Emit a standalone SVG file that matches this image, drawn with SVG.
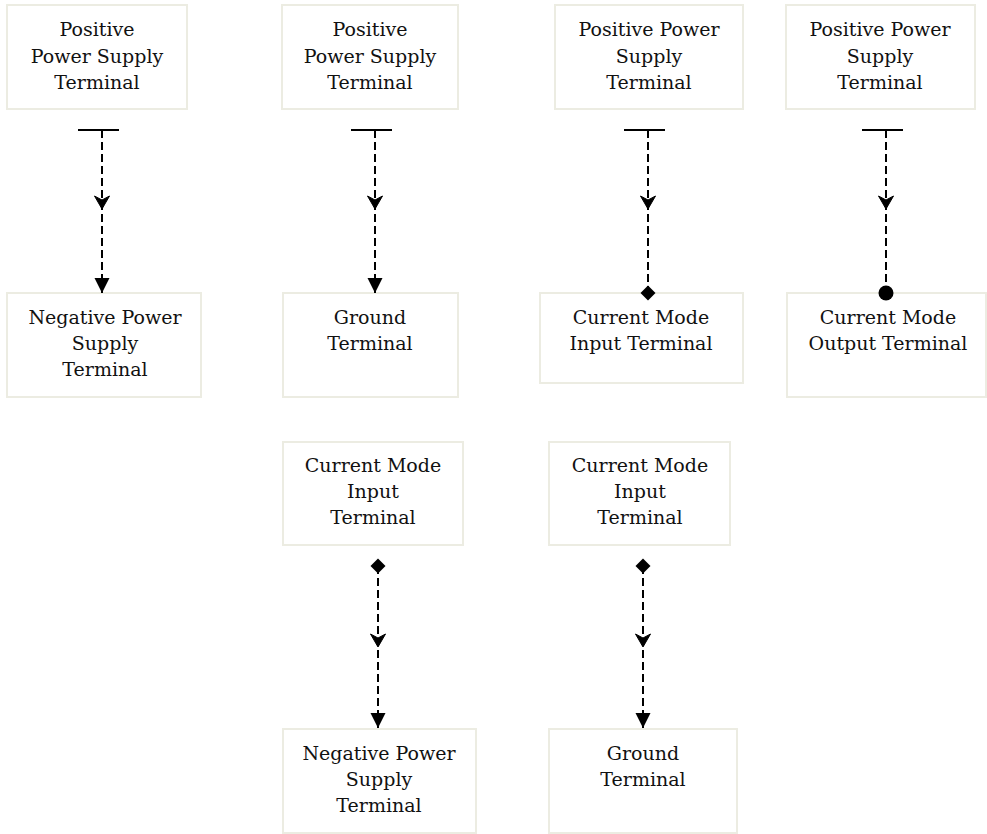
<svg xmlns="http://www.w3.org/2000/svg" width="987" height="834" viewBox="0 0 987 834">
<style>
.box{fill:#ffffff;stroke:#ecece2;stroke-width:2}
.lbl{font-family:"DejaVu Serif","Liberation Serif",serif;font-size:19px;fill:#111;text-anchor:middle}
.edge{fill:none;stroke:#000;stroke-width:2;stroke-dasharray:8 4}
</style>
<defs>
<marker id="tee" markerUnits="userSpaceOnUse" orient="auto" overflow="visible" refX="0" refY="0" markerWidth="1" markerHeight="1">
<path d="M0,-17 L0,24" stroke="#000" stroke-width="2" fill="none"/>
</marker>
<marker id="dia" markerUnits="userSpaceOnUse" orient="auto" overflow="visible" refX="0" refY="0" markerWidth="1" markerHeight="1">
<path d="M-7.5,0 L0,-7.5 L7.5,0 L0,7.5 Z" fill="#000"/>
</marker>
<marker id="dot" markerUnits="userSpaceOnUse" orient="auto" overflow="visible" refX="0" refY="0" markerWidth="1" markerHeight="1">
<circle cx="0" cy="0" r="7.5" fill="#000"/>
</marker>
<marker id="arr" markerUnits="userSpaceOnUse" orient="auto" overflow="visible" refX="0" refY="0" markerWidth="1" markerHeight="1">
<path d="M-15,-7.5 L0,0 L-15,7.5 Z" fill="#000"/>
</marker>
<marker id="mid" markerUnits="userSpaceOnUse" orient="auto" overflow="visible" refX="0" refY="0" markerWidth="1" markerHeight="1">
<path d="M-13,-7.5 L0,0 L-13,7.5 L-9,0 Z" fill="#000" stroke="#000" stroke-width="1" stroke-linejoin="miter"/>
</marker>
</defs>
<g id="n1"><rect class="box" x="7" y="5" width="180" height="104"/><text class="lbl" x="97" y="36">Positive</text><text class="lbl" x="97" y="62.5">Power Supply</text><text class="lbl" x="97" y="89">Terminal</text></g>
<g id="n2"><rect class="box" x="282" y="5" width="176" height="104"/><text class="lbl" x="370" y="36">Positive</text><text class="lbl" x="370" y="62.5">Power Supply</text><text class="lbl" x="370" y="89">Terminal</text></g>
<g id="n3"><rect class="box" x="555" y="5" width="188" height="104"/><text class="lbl" x="649" y="36">Positive Power</text><text class="lbl" x="649" y="62.5">Supply</text><text class="lbl" x="649" y="89">Terminal</text></g>
<g id="n4"><rect class="box" x="786" y="5" width="189" height="104"/><text class="lbl" x="880" y="36">Positive Power</text><text class="lbl" x="880" y="62.5">Supply</text><text class="lbl" x="880" y="89">Terminal</text></g>
<g id="n5"><rect class="box" x="7" y="293" width="194" height="104"/><text class="lbl" x="105" y="324">Negative Power</text><text class="lbl" x="105" y="350">Supply</text><text class="lbl" x="105" y="376">Terminal</text></g>
<g id="n6"><rect class="box" x="283" y="293" width="175" height="104"/><text class="lbl" x="370" y="324">Ground</text><text class="lbl" x="370" y="350">Terminal</text></g>
<g id="n7"><rect class="box" x="540" y="293" width="203" height="90"/><text class="lbl" x="641" y="324">Current Mode</text><text class="lbl" x="641" y="350">Input Terminal</text></g>
<g id="n8"><rect class="box" x="787" y="293" width="199" height="104"/><text class="lbl" x="888" y="324">Current Mode</text><text class="lbl" x="888" y="350">Output Terminal</text></g>
<g id="n9"><rect class="box" x="283" y="442" width="180" height="103"/><text class="lbl" x="373" y="472">Current Mode</text><text class="lbl" x="373" y="498">Input</text><text class="lbl" x="373" y="524">Terminal</text></g>
<g id="n10"><rect class="box" x="549" y="442" width="181" height="103"/><text class="lbl" x="640" y="472">Current Mode</text><text class="lbl" x="640" y="498">Input</text><text class="lbl" x="640" y="524">Terminal</text></g>
<g id="n11"><rect class="box" x="283" y="729" width="193" height="104"/><text class="lbl" x="379" y="760">Negative Power</text><text class="lbl" x="379" y="786">Supply</text><text class="lbl" x="379" y="812">Terminal</text></g>
<g id="n12"><rect class="box" x="549" y="729" width="188" height="104"/><text class="lbl" x="643" y="760">Ground</text><text class="lbl" x="643" y="786">Terminal</text></g>
<g id="connectors">
<polyline class="edge" points="102,130 102,209 102,293" marker-start="url(#tee)" marker-mid="url(#mid)" marker-end="url(#arr)"/>
<polyline class="edge" points="375,130 375,209 375,293" marker-start="url(#tee)" marker-mid="url(#mid)" marker-end="url(#arr)"/>
<polyline class="edge" points="648,130 648,209 648,293" marker-start="url(#tee)" marker-mid="url(#mid)" marker-end="url(#dia)"/>
<polyline class="edge" points="886,130 886,209 886,293" marker-start="url(#tee)" marker-mid="url(#mid)" marker-end="url(#dot)"/>
<polyline class="edge" points="378,566 378,647 378,728" marker-start="url(#dia)" marker-mid="url(#mid)" marker-end="url(#arr)"/>
<polyline class="edge" points="643,566 643,647 643,728" marker-start="url(#dia)" marker-mid="url(#mid)" marker-end="url(#arr)"/>
</g>
</svg>
